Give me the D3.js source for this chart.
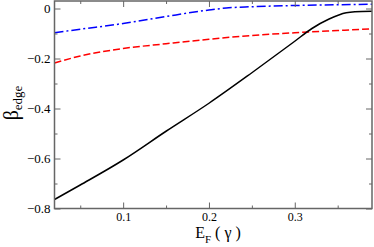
<!DOCTYPE html>
<html><head><meta charset="utf-8">
<script src="https://cdn.jsdelivr.net/npm/d3@7"></script>
<style>html,body{margin:0;padding:0;background:#fff;}svg{display:block;} svg text{font-family:"Liberation Serif","DejaVu Serif",serif !important;}</style>
</head><body>
<svg id="c" width="374" height="247"></svg>
<script>
const xBlack = [0.02, 0.05, 0.10, 0.15, 0.20, 0.25, 0.30, 0.32, 0.34, 0.36, 0.37, 0.39];
const yBlack = [-0.764, -0.706, -0.606, -0.491, -0.379, -0.257, -0.131, -0.08, -0.042, -0.017, -0.013, -0.011];
const xRed = [0.02, 0.05, 0.10, 0.15, 0.20, 0.25, 0.30, 0.35, 0.39];
const yRed = [-0.218, -0.19, -0.16, -0.141, -0.123, -0.108, -0.097, -0.088, -0.081];
const xBlue = [0.02, 0.05, 0.10, 0.15, 0.20, 0.22, 0.25, 0.30, 0.35, 0.39];
const yBlue = [-0.097, -0.083, -0.06, -0.032, -0.006, 0.002, 0.007, 0.012, 0.015, 0.017];
const xMajor = [0.1, 0.2, 0.3];
const xMinor = [0.05, 0.15, 0.25, 0.35];
const yMajor = [0, -0.2, -0.4, -0.6, -0.8];
const yMinor = [-0.1, -0.3, -0.5, -0.7];

const L = 54.5, R = 372, T = 1, B = 208.5;
const x = d3.scaleLinear().domain([0.02, 0.39]).range([L, R]);
const y = d3.scaleLinear().domain([-0.8, 0.03]).range([B, B - 0.83 * 250]);
const svg = d3.select('#c');
const font = '"Liberation Serif", "DejaVu Serif", serif';
const axisCol = '#666';

const line = d3.line().x(d => x(d[0])).y(d => y(d[1])).curve(d3.curveMonotoneX);
svg.append('clipPath').attr('id', 'clp').append('rect')
  .attr('x', L).attr('y', T).attr('width', R - L).attr('height', B - T);
const g = svg.append('g').attr('clip-path', 'url(#clp)');
g.append('path').datum(xBlue.map((v, i) => [v, yBlue[i]])).attr('d', line)
  .attr('fill', 'none').attr('stroke', '#0000ff').attr('stroke-width', 1.5).attr('stroke-dasharray', '9,3,2,3');
g.append('path').datum(xRed.map((v, i) => [v, yRed[i]])).attr('d', line)
  .attr('fill', 'none').attr('stroke', '#ff0000').attr('stroke-width', 1.5).attr('stroke-dasharray', '7,3');
g.append('path').datum(xBlack.map((v, i) => [v, yBlack[i]])).attr('d', line)
  .attr('fill', 'none').attr('stroke', '#000').attr('stroke-width', 1.5);

function axisSet(axisFn, scale, vals, size, tr, labels) {
  const a = axisFn(scale).tickValues(vals).tickSizeInner(size).tickSizeOuter(0);
  a.tickFormat(labels ? d3.format('.1f') : () => '');
  const ag = svg.append('g').attr('transform', tr).call(a).attr('font-family', font);
  ag.select('.domain').remove();
  ag.selectAll('.tick line').attr('stroke', axisCol).attr('stroke-width', 1);
  ag.selectAll('text').attr('font-family', font).attr('font-size', 13).attr('fill', '#000');
  return ag;
}
const bMaj = axisSet(d3.axisTop, x, xMajor, 6, `translate(0,${B})`, true);
bMaj.selectAll('text').attr('y', 12).attr('dy', 0).attr('font-size', 12);
axisSet(d3.axisTop, x, xMinor, 3, `translate(0,${B})`, false);
axisSet(d3.axisBottom, x, xMajor, 6, `translate(0,${T})`, false);
axisSet(d3.axisBottom, x, xMinor, 3, `translate(0,${T})`, false);
const lMaj = axisSet(d3.axisRight, y, yMajor, 6, `translate(${L},0)`, true);
lMaj.selectAll('text').attr('x', -4).attr('text-anchor', 'end')
  .text(d => d === 0 ? '0' : d3.format('.1f')(d));
axisSet(d3.axisRight, y, yMinor, 3, `translate(${L},0)`, false);
axisSet(d3.axisLeft, y, yMajor, 6, `translate(${R},0)`, false);
axisSet(d3.axisLeft, y, yMinor, 3, `translate(${R},0)`, false);

svg.append('rect').attr('x', L).attr('y', T).attr('width', R - L).attr('height', B - T)
  .attr('fill', 'none').attr('stroke', axisCol).attr('stroke-width', 1.5);

const xt = svg.append('text').attr('x', 218).attr('y', 238).attr('text-anchor', 'middle')
  .attr('font-family', font).attr('font-size', 16).attr('fill', '#000');
xt.append('tspan').text('E');
xt.append('tspan').attr('font-size', 11).attr('dy', 5).text('F');
xt.append('tspan').attr('dy', -5).text(' ( γ )');

const yt = svg.append('text').attr('transform', 'translate(18,103) rotate(-90)').attr('text-anchor', 'middle')
  .attr('font-family', font).attr('font-size', 20).attr('fill', '#000');
yt.append('tspan').text('β');
yt.append('tspan').attr('font-size', 13).attr('dy', 4).text('edge');
</script>
</body></html>
